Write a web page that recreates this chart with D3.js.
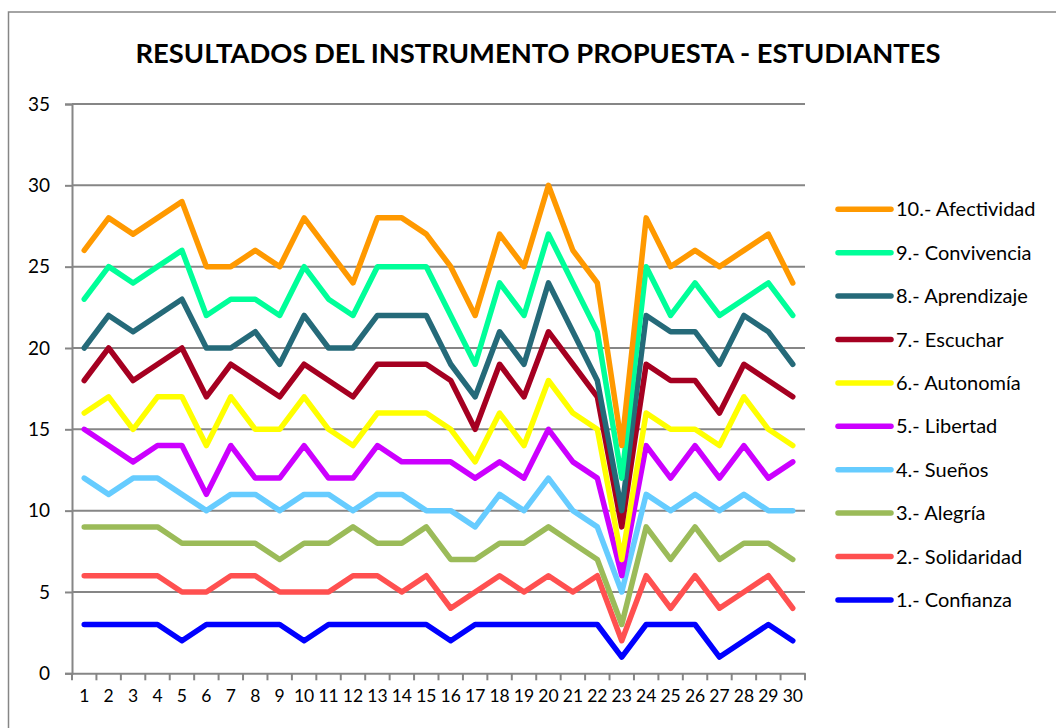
<!DOCTYPE html>
<html>
<head>
<meta charset="utf-8">
<script src="https://cdn.jsdelivr.net/npm/d3@7"></script>
<style>
  body { margin: 0; background: #fff; }
  svg { display: block; font-family: Lato, "Open Sans", sans-serif; }
</style>
</head>
<body>
<div id="chart"></div>
<script>
const width = 1056;
const height = 728;

// x categories (students 1..30)
const students = d3.range(1, 31);
const yTicks = [0, 5, 10, 15, 20, 25, 30, 35];

// series names, in legend order from bottom to top
const seriesNames = [
  "1.- Confianza", "2.- Solidaridad", "3.- Alegría", "4.- Sueños", "5.- Libertad",
  "6.- Autonomía", "7.- Escuchar", "8.- Aprendizaje", "9.- Convivencia", "10.- Afectividad"
];
const seriesColors = [
  "#0000ff", "#ff5050", "#9bbb59", "#66ccff", "#cc00ff",
  "#ffff00", "#a50021", "#256a79", "#00ff99", "#ff9900"
];

// values
const confianza   = [3,3,3,3,2,3,3,3,3,2,3,3,3,3,3,2,3,3,3,3,3,3,1,3,3,3,1,2,3,2];
const solidaridad = [6,6,6,6,5,5,6,6,5,5,5,6,6,5,6,4,5,6,5,6,5,6,2,6,4,6,4,5,6,4];
const alegria     = [9,9,9,9,8,8,8,8,7,8,8,9,8,8,9,7,7,8,8,9,8,7,3,9,7,9,7,8,8,7];
const suenos      = [12,11,12,12,11,10,11,11,10,11,11,10,11,11,10,10,9,11,10,12,10,9,5,11,10,11,10,11,10,10];
const libertad    = [15,14,13,14,14,11,14,12,12,14,12,12,14,13,13,13,12,13,12,15,13,12,6,14,12,14,12,14,12,13];
const autonomia   = [16,17,15,17,17,14,17,15,15,17,15,14,16,16,16,15,13,16,14,18,16,15,7,16,15,15,14,17,15,14];
const escuchar    = [18,20,18,19,20,17,19,18,17,19,18,17,19,19,19,18,15,19,17,21,19,17,9,19,18,18,16,19,18,17];
const aprendizaje = [20,22,21,22,23,20,20,21,19,22,20,20,22,22,22,19,17,21,19,24,21,18,10,22,21,21,19,22,21,19];
const convivencia = [23,25,24,25,26,22,23,23,22,25,23,22,25,25,25,22,19,24,22,27,24,21,12,25,22,24,22,23,24,22];
const afectividad = [26,28,27,28,29,25,25,26,25,28,26,24,28,28,27,25,22,27,25,30,26,24,14,28,25,26,25,26,27,24];

const seriesValues = [confianza, solidaridad, alegria, suenos, libertad,
  autonomia, escuchar, aprendizaje, convivencia, afectividad];

const svg = d3.select("#chart").append("svg")
  .attr("width", width)
  .attr("height", height);

// outer chart frame (cropped on right and bottom)
svg.append("rect")
  .attr("x", 8.5).attr("y", 12)
  .attr("width", 1100).attr("height", 800)
  .attr("fill", "none")
  .attr("stroke", "#868686")
  .attr("stroke-width", 1.5);

svg.append("text")
  .attr("x", 538).attr("y", 63)
  .attr("text-anchor", "middle")
  .attr("font-weight", "bold")
  .attr("font-size", 27)
  .attr("textLength", 805)
  .attr("lengthAdjust", "spacingAndGlyphs")
  .attr("fill", "#000")
  .text("RESULTADOS DEL INSTRUMENTO PROPUESTA - ESTUDIANTES");

const plotLeft = 72, plotRight = 805, plotTop = 104, plotBottom = 673.3;

const x = d3.scaleBand()
  .domain(students)
  .range([plotLeft, plotRight]);

const y = d3.scaleLinear()
  .domain([0, 35])
  .range([plotBottom, plotTop]);

// gridlines
svg.append("g")
  .selectAll("line").data(yTicks.filter(d => d > 0))
  .enter().append("line")
  .attr("x1", plotLeft).attr("x2", plotRight)
  .attr("y1", d => y(d)).attr("y2", d => y(d))
  .attr("stroke", "#868686")
  .attr("stroke-width", 2);

// y axis
const yAxis = svg.append("g")
  .attr("transform", `translate(${plotLeft},0)`)
  .call(d3.axisLeft(y).tickValues(yTicks).tickSize(7).tickPadding(15));
yAxis.select(".domain").attr("stroke", "#868686").attr("stroke-width", 2);
yAxis.selectAll(".tick line").attr("stroke", "#868686").attr("stroke-width", 2);
yAxis.selectAll(".tick text")
  .attr("font-size", 19)
  .attr("font-family", "Lato, 'Open Sans', sans-serif")
  .attr("fill", "#000");

// x axis with ticks between categories
const xAxis = svg.append("g")
  .attr("transform", `translate(0,${plotBottom})`)
  .call(d3.axisBottom(x).tickSize(0).tickPadding(16));
xAxis.select(".domain").attr("stroke", "#868686").attr("stroke-width", 2);
xAxis.selectAll(".tick text")
  .attr("font-size", 17.5)
  .attr("font-family", "Lato, 'Open Sans', sans-serif")
  .attr("fill", "#000");
xAxis.append("g")
  .selectAll("line").data(students.concat([31]))
  .enter().append("line")
  .attr("x1", d => plotLeft + x.step() * (d - 1))
  .attr("x2", d => plotLeft + x.step() * (d - 1))
  .attr("y1", 0).attr("y2", 7)
  .attr("stroke", "#868686")
  .attr("stroke-width", 2);

// lines
const line = d3.line()
  .x((d, i) => x(students[i]) + x.bandwidth() / 2)
  .y(d => y(d));

svg.append("g")
  .selectAll("path").data(seriesValues)
  .enter().append("path")
  .attr("d", d => line(d))
  .attr("fill", "none")
  .attr("stroke", (d, i) => seriesColors[i])
  .attr("stroke-width", 5.5)
  .attr("stroke-linejoin", "round")
  .attr("stroke-linecap", "round");

// legend, top item is series 10
const legend = svg.append("g");
const legendItems = legend.selectAll("g").data(d3.range(9, -1, -1))
  .enter().append("g")
  .attr("transform", (d, i) => `translate(0,${209.3 + i * 43.4})`);
legendItems.append("line")
  .attr("x1", 838).attr("x2", 891)
  .attr("y1", 0).attr("y2", 0)
  .attr("stroke", d => seriesColors[d])
  .attr("stroke-width", 5.5)
  .attr("stroke-linecap", "round");
legendItems.append("text")
  .attr("x", 896).attr("y", 7)
  .attr("font-size", 20)
  .attr("fill", "#000")
  .text(d => seriesNames[d]);
</script>
</body>
</html>
